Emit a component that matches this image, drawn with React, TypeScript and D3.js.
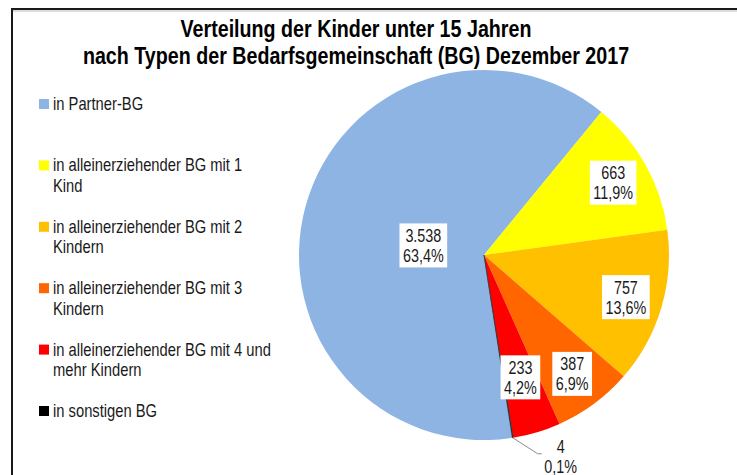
import React from "react";
import * as d3 from "d3";

const TITLE_LINES = [
  "Verteilung der Kinder unter 15 Jahren",
  "nach Typen der Bedarfsgemeinschaft (BG) Dezember 2017",
];
const CATEGORIES = [
  "in Partner-BG",
  "in alleinerziehender BG mit 1 Kind",
  "in alleinerziehender BG mit 2 Kindern",
  "in alleinerziehender BG mit 3 Kindern",
  "in alleinerziehender BG mit 4 und mehr Kindern",
  "in sonstigen BG",
];
const LEGEND_LINES = [
  ["in Partner-BG"],
  ["in alleinerziehender BG mit 1", "Kind"],
  ["in alleinerziehender BG mit 2", "Kindern"],
  ["in alleinerziehender BG mit 3", "Kindern"],
  ["in alleinerziehender BG mit 4 und", "mehr Kindern"],
  ["in sonstigen BG"],
];
const VALUES = [3538, 663, 757, 387, 233, 4];
const COLORS = ["#8EB4E3", "#FFFF00", "#FFC000", "#FF6600", "#FF0000", "#000000"];

const W = 737;
const H = 475;
const NARROW = "'Liberation Sans Narrow'";
const REG = "'Liberation Sans', Arial, sans-serif";

let ctx: CanvasRenderingContext2D | null = null;
function getCtx() {
  if (!ctx) ctx = document.createElement("canvas").getContext("2d");
  return ctx;
}
function narrowAvailable() {
  const c = getCtx();
  if (!c) return false;
  c.font = `40px ${NARROW}, monospace`;
  const a = c.measureText("in alleinerziehender BG").width;
  c.font = `40px monospace`;
  const b = c.measureText("in alleinerziehender BG").width;
  return Math.abs(a - b) > 1;
}
const HAS_NARROW = narrowAvailable();
const SX = 0.82;

function measure(text: string, size: number, bold = false) {
  const c = getCtx();
  if (!c) return text.length * size * 0.45;
  const w = bold ? "bold " : "";
  if (HAS_NARROW) {
    c.font = `${w}${size}px ${NARROW}, sans-serif`;
    return c.measureText(text).width;
  }
  c.font = `${w}${size}px ${REG}`;
  return c.measureText(text).width * SX;
}

function NText(props: {
  x: number;
  y: number;
  size: number;
  anchor?: "start" | "middle" | "end";
  bold?: boolean;
  fill?: string;
  children: string;
}) {
  const { x, y, size, anchor = "start", bold = false, fill = "#1a1a1a", children } = props;
  return (
    <text
      transform={`translate(${x},${y}) scale(${HAS_NARROW ? 1 : SX},1)`}
      fontFamily={HAS_NARROW ? `${NARROW}, ${REG}` : REG}
      fontSize={size}
      fontWeight={bold ? "bold" : "normal"}
      textAnchor={anchor}
      fill={fill}
    >
      {children}
    </text>
  );
}

const fmtInt = (v: number) => d3.format(",d")(v).replace(/,/g, ".");
const fmtPct = (p: number) => d3.format(".1f")(p * 100).replace(".", ",") + "%";

export default function App() {
  const cx = 484;
  const cy = 255;
  const R = 185;
  const total = d3.sum(VALUES);
  const start = (171.2 * Math.PI) / 180;
  const pie = d3
    .pie<number>()
    .sort(null)
    .startAngle(start)
    .endAngle(start + 2 * Math.PI);
  const arcs = pie(VALUES);
  const arc = d3.arc<d3.PieArcDatum<number>>().innerRadius(0).outerRadius(R);

  const labelFont = 17.5;
  const lineH = 20;

  const pt = (a: number, r: number) => [Math.sin(a) * r, -Math.cos(a) * r];

  return (
    <svg
      width={W}
      height={H}
      style={{ position: "absolute", left: 0, top: 0, background: "#fff" }}
    >
      <rect x={0} y={0} width={W} height={H} fill="#fff" />
      {/* frame */}
      <line x1={12} y1={11} x2={W} y2={11} stroke="#d0d0d0" strokeWidth={1.5} />
      <line x1={12} y1={9} x2={W} y2={9} stroke="#1a1a1a" strokeWidth={2} />
      <line x1={12} y1={8} x2={12} y2={H} stroke="#1a1a1a" strokeWidth={2} />

      {/* title */}
      {TITLE_LINES.map((t, i) => (
        <NText key={i} x={356} y={37 + i * 26.5} anchor="middle" bold size={24} fill="#000">
          {t}
        </NText>
      ))}

      {/* pie */}
      <g transform={`translate(${cx},${cy})`}>
        {arcs.map((a, i) => (
          <path
            key={i}
            d={arc(a) || ""}
            fill={COLORS[i]}
            stroke={i === 5 ? "#333" : "none"}
            strokeWidth={0.6}
          />
        ))}
        {arcs.map((a, i) => {
          const share = a.value / total;
          const mid = (a.startAngle + a.endAngle) / 2;
          const lines = [fmtInt(a.value), fmtPct(share)];
          if (share < 0.01) {
            const [x0, y0] = pt(mid, R);
            const x1 = x0 + 25;
            const y1 = y0 + 16;
            const x2 = x1 + 4;
            return (
              <g key={i}>
                <polyline
                  points={`${x0},${y0} ${x1},${y1} ${x2},${y1}`}
                  fill="none"
                  stroke="#8c8c8c"
                  strokeWidth={1}
                />
                {lines.map((l, j) => (
                  <NText key={j} x={x2 + 19} y={y1 - 1 + j * lineH} anchor="middle" size={labelFont}>
                    {l}
                  </NText>
                ))}
              </g>
            );
          }
          const big = share > 0.5;
          const rf = big ? 0.34 : share < 0.05 ? 0.69 : 0.8;
          const [lx, ly0] = pt(mid, R * rf);
          const ly = ly0 + (big ? 7 : 0);
          const tw = Math.max(...lines.map((l) => measure(l, labelFont)));
          const bw = tw + 7;
          const bh = lineH * 2 + 4;
          return (
            <g key={i} transform={`translate(${lx},${ly})`}>
              <rect x={-bw / 2} y={-bh / 2} width={bw} height={bh} fill="#fff" />
              {lines.map((l, j) => (
                <NText key={j} x={0} y={-bh / 2 + 18.5 + j * lineH} anchor="middle" size={labelFont}>
                  {l}
                </NText>
              ))}
            </g>
          );
        })}
      </g>

      {/* legend */}
      {CATEGORIES.map((c, i) => {
        const yc = 104 + i * 61.4;
        return (
          <g key={c}>
            <rect x={39} y={yc - 5} width={10} height={10} fill={COLORS[i]} />
            {LEGEND_LINES[i].map((l, j) => (
              <NText key={j} x={53} y={yc + 6 + j * 20.5} size={18}>
                {l}
              </NText>
            ))}
          </g>
        );
      })}
    </svg>
  );
}
